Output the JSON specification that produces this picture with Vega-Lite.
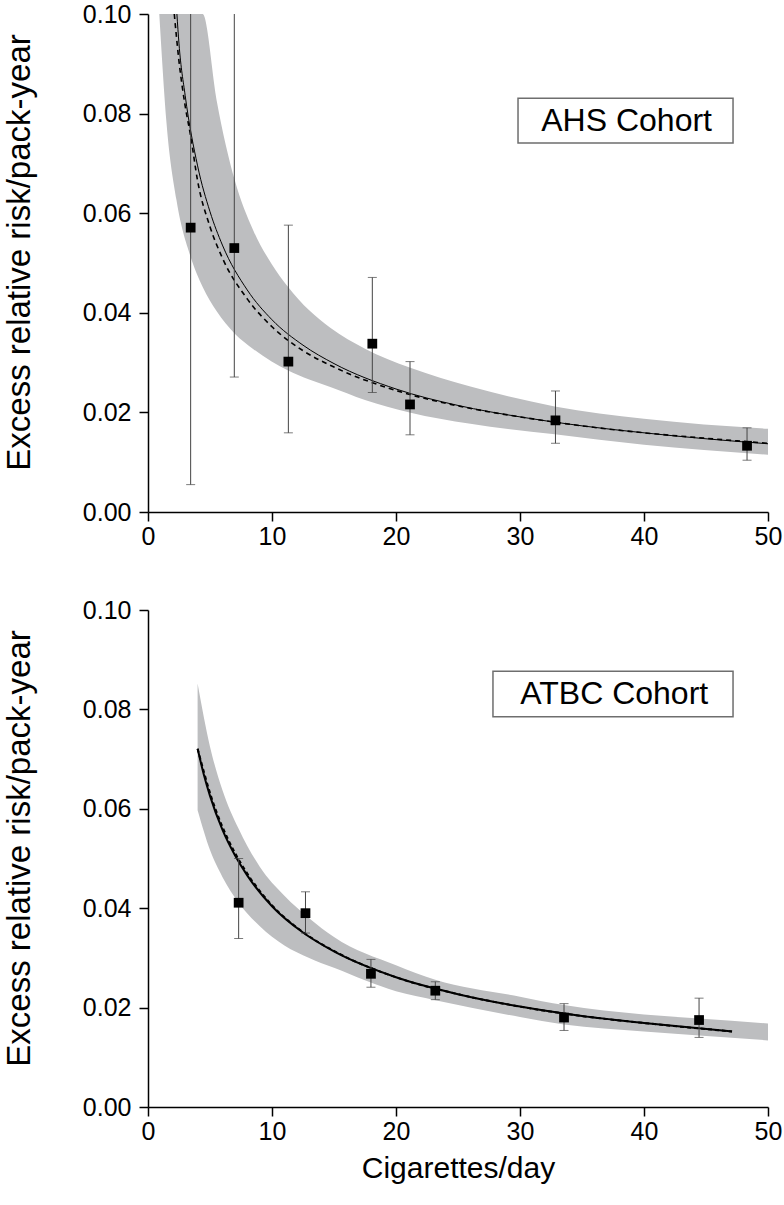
{
  "$schema": "https://vega.github.io/schema/vega-lite/v6.json",
  "background": "white",
  "padding": {"left": 3, "top": 2, "right": 5, "bottom": 5},
  "spacing": 49,
  "config": {
    "view": {"stroke": null},
    "font": "Liberation Sans",
    "axis": {
      "domainColor": "black", "domainWidth": 1.5,
      "tickColor": "black", "tickWidth": 1.5, "tickSize": 9,
      "labelFontSize": 25, "labelColor": "black", "labelFont": "Liberation Sans",
      "grid": false, "labelFlush": false, "labelOverlap": false,
      "titleFont": "Liberation Sans", "titleFontSize": 30, "titleFontWeight": "normal", "titleColor": "black"
    },
    "axisY": {"labelPadding": 8, "titlePadding": 46, "titleFontSize": 33},
    "axisX": {"labelPadding": 3, "titlePadding": 9}
  },
  "datasets": {
    "ahs_points": [
      {"cig": 3.44, "rr": 0.0571, "lo": 0.0055, "hi": 0.1},
      {"cig": 6.96, "rr": 0.0530, "lo": 0.0271, "hi": 0.1},
      {"cig": 11.32, "rr": 0.0302, "lo": 0.0159, "hi": 0.0576},
      {"cig": 18.09, "rr": 0.0338, "lo": 0.0240, "hi": 0.0471},
      {"cig": 21.13, "rr": 0.0216, "lo": 0.0155, "hi": 0.0302},
      {"cig": 32.86, "rr": 0.0184, "lo": 0.0138, "hi": 0.0243},
      {"cig": 48.31, "rr": 0.0133, "lo": 0.0104, "hi": 0.0169}
    ],
    "ahs_band": [
      {"cig": 0.91, "lo": 0.1, "hi": 0.1},
      {"cig": 1.5, "lo": 0.0779, "hi": 0.1},
      {"cig": 2.3, "lo": 0.0626, "hi": 0.1},
      {"cig": 3.44, "lo": 0.0512, "hi": 0.1},
      {"cig": 4.41, "lo": 0.0452, "hi": 0.1},
      {"cig": 5.54, "lo": 0.0403, "hi": 0.0826},
      {"cig": 7.0, "lo": 0.0358, "hi": 0.0666},
      {"cig": 8.5, "lo": 0.0327, "hi": 0.0565},
      {"cig": 9.97, "lo": 0.0302, "hi": 0.0498},
      {"cig": 11.3, "lo": 0.0284, "hi": 0.0452},
      {"cig": 13.0, "lo": 0.0266, "hi": 0.0405},
      {"cig": 14.7, "lo": 0.0251, "hi": 0.0370},
      {"cig": 17.5, "lo": 0.0225, "hi": 0.0328},
      {"cig": 21.1, "lo": 0.0200, "hi": 0.0290},
      {"cig": 26, "lo": 0.0177, "hi": 0.0252},
      {"cig": 32.8, "lo": 0.0156, "hi": 0.0212},
      {"cig": 40, "lo": 0.0135, "hi": 0.0187},
      {"cig": 50, "lo": 0.0115, "hi": 0.0167}
    ],
    "ahs_fit": [
      {"fit": "solid", "cig": 2.33, "rr": 0.1},
      {"fit": "solid", "cig": 2.5, "rr": 0.0940},
      {"fit": "solid", "cig": 3, "rr": 0.0836},
      {"fit": "solid", "cig": 4, "rr": 0.0695},
      {"fit": "solid", "cig": 5, "rr": 0.0603},
      {"fit": "solid", "cig": 6, "rr": 0.0536},
      {"fit": "solid", "cig": 8, "rr": 0.0446},
      {"fit": "solid", "cig": 10, "rr": 0.0386},
      {"fit": "solid", "cig": 12.5, "rr": 0.0335},
      {"fit": "solid", "cig": 15, "rr": 0.0298},
      {"fit": "solid", "cig": 20, "rr": 0.0247},
      {"fit": "solid", "cig": 25, "rr": 0.0214},
      {"fit": "solid", "cig": 30, "rr": 0.0191},
      {"fit": "solid", "cig": 35, "rr": 0.0173},
      {"fit": "solid", "cig": 40, "rr": 0.0159},
      {"fit": "solid", "cig": 45, "rr": 0.0147},
      {"fit": "solid", "cig": 50, "rr": 0.0137},
      {"fit": "dashed", "cig": 2.12, "rr": 0.1},
      {"fit": "dashed", "cig": 2.5, "rr": 0.0905},
      {"fit": "dashed", "cig": 3, "rr": 0.0815},
      {"fit": "dashed", "cig": 3.44, "rr": 0.0755},
      {"fit": "dashed", "cig": 4, "rr": 0.0665},
      {"fit": "dashed", "cig": 5, "rr": 0.0573},
      {"fit": "dashed", "cig": 6, "rr": 0.0510},
      {"fit": "dashed", "cig": 8, "rr": 0.0428},
      {"fit": "dashed", "cig": 10, "rr": 0.0372},
      {"fit": "dashed", "cig": 12.5, "rr": 0.0324},
      {"fit": "dashed", "cig": 15, "rr": 0.0291},
      {"fit": "dashed", "cig": 20, "rr": 0.0244},
      {"fit": "dashed", "cig": 25, "rr": 0.0213},
      {"fit": "dashed", "cig": 30, "rr": 0.0191},
      {"fit": "dashed", "cig": 35, "rr": 0.0173},
      {"fit": "dashed", "cig": 40, "rr": 0.0159},
      {"fit": "dashed", "cig": 45, "rr": 0.0148},
      {"fit": "dashed", "cig": 50, "rr": 0.0138}
    ],
    "atbc_points": [
      {"cig": 7.31, "rr": 0.0411, "lo": 0.0339, "hi": 0.0500},
      {"cig": 12.7, "rr": 0.0390, "lo": 0.0350, "hi": 0.0433},
      {"cig": 17.98, "rr": 0.0268, "lo": 0.0241, "hi": 0.0297},
      {"cig": 23.17, "rr": 0.0234, "lo": 0.0216, "hi": 0.0252},
      {"cig": 33.55, "rr": 0.0180, "lo": 0.0154, "hi": 0.0208},
      {"cig": 44.44, "rr": 0.0175, "lo": 0.0140, "hi": 0.0219}
    ],
    "atbc_band": [
      {"cig": 4.0, "lo": 0.0597, "hi": 0.0852},
      {"cig": 5.0, "lo": 0.0517, "hi": 0.0725},
      {"cig": 6.0, "lo": 0.0463, "hi": 0.0638},
      {"cig": 7.31, "lo": 0.0411, "hi": 0.0560},
      {"cig": 9.0, "lo": 0.0364, "hi": 0.0484},
      {"cig": 11.0, "lo": 0.0325, "hi": 0.0425},
      {"cig": 13.0, "lo": 0.0300, "hi": 0.0380},
      {"cig": 15.0, "lo": 0.0280, "hi": 0.0342},
      {"cig": 20.0, "lo": 0.0233, "hi": 0.0285},
      {"cig": 23.17, "lo": 0.0215, "hi": 0.0256},
      {"cig": 30.0, "lo": 0.0181, "hi": 0.0222},
      {"cig": 33.55, "lo": 0.0166, "hi": 0.0205},
      {"cig": 40.0, "lo": 0.0152, "hi": 0.0186},
      {"cig": 44.44, "lo": 0.0144, "hi": 0.0178},
      {"cig": 50.0, "lo": 0.0134, "hi": 0.0168}
    ],
    "atbc_fit": [
      {"fit": "solid", "cig": 4.0, "rr": 0.0721},
      {"fit": "solid", "cig": 4.5, "rr": 0.0669},
      {"fit": "solid", "cig": 5, "rr": 0.0626},
      {"fit": "solid", "cig": 6, "rr": 0.0558},
      {"fit": "solid", "cig": 7, "rr": 0.0507},
      {"fit": "solid", "cig": 8, "rr": 0.0466},
      {"fit": "solid", "cig": 10, "rr": 0.0404},
      {"fit": "solid", "cig": 12.5, "rr": 0.0351},
      {"fit": "solid", "cig": 15, "rr": 0.0313},
      {"fit": "solid", "cig": 20, "rr": 0.0261},
      {"fit": "solid", "cig": 25, "rr": 0.0227},
      {"fit": "solid", "cig": 30, "rr": 0.0202},
      {"fit": "solid", "cig": 35, "rr": 0.0183},
      {"fit": "solid", "cig": 40, "rr": 0.0169},
      {"fit": "solid", "cig": 47.1, "rr": 0.0152},
      {"fit": "dashed", "cig": 4.0, "rr": 0.0721},
      {"fit": "dashed", "cig": 4.5, "rr": 0.0675},
      {"fit": "dashed", "cig": 5, "rr": 0.0632},
      {"fit": "dashed", "cig": 6, "rr": 0.0564},
      {"fit": "dashed", "cig": 7, "rr": 0.0512},
      {"fit": "dashed", "cig": 8, "rr": 0.0470},
      {"fit": "dashed", "cig": 10, "rr": 0.0406},
      {"fit": "dashed", "cig": 12.5, "rr": 0.0352},
      {"fit": "dashed", "cig": 15, "rr": 0.0314},
      {"fit": "dashed", "cig": 20, "rr": 0.0261},
      {"fit": "dashed", "cig": 25, "rr": 0.0227},
      {"fit": "dashed", "cig": 30, "rr": 0.0202},
      {"fit": "dashed", "cig": 35, "rr": 0.0183},
      {"fit": "dashed", "cig": 40, "rr": 0.0169},
      {"fit": "dashed", "cig": 47.1, "rr": 0.0152}
    ]
  },
  "vconcat": [
    {
      "width": 620,
      "height": 498,
      "layer": [
        {
          "data": {"name": "ahs_band"},
          "mark": {"type": "area", "orient": "vertical", "color": "#bdbec0", "interpolate": "monotone"},
          "encoding": {
            "x": {"field": "cig", "type": "quantitative", "scale": {"domain": [0, 50], "nice": false}, "axis": {"values": [0, 10, 20, 30, 40, 50], "title": null}},
            "y": {"field": "lo", "type": "quantitative", "scale": {"domain": [0, 0.1], "nice": false}, "axis": {"values": [0, 0.02, 0.04, 0.06, 0.08, 0.1], "format": ".2f", "title": "Excess relative risk/pack-year", "titleY": 238}},
            "y2": {"field": "hi"}
          }
        },
        {
          "data": {"name": "ahs_fit"},
          "transform": [{"filter": "datum.fit === 'solid'"}],
          "mark": {"type": "line", "interpolate": "monotone", "color": "black", "strokeWidth": 1},
          "encoding": {
            "x": {"field": "cig", "type": "quantitative"},
            "y": {"field": "rr", "type": "quantitative"}
          }
        },
        {
          "data": {"name": "ahs_fit"},
          "transform": [{"filter": "datum.fit === 'dashed'"}],
          "mark": {"type": "line", "interpolate": "monotone", "color": "black", "strokeWidth": 1.6, "strokeDash": [5, 4]},
          "encoding": {
            "x": {"field": "cig", "type": "quantitative"},
            "y": {"field": "rr", "type": "quantitative"}
          }
        },
        {
          "data": {"name": "ahs_points"},
          "mark": {"type": "rule", "color": "#444444", "strokeWidth": 1},
          "encoding": {
            "x": {"field": "cig", "type": "quantitative"},
            "y": {"field": "lo", "type": "quantitative"},
            "y2": {"field": "hi"}
          }
        },
        {
          "data": {"name": "ahs_points"},
          "mark": {"type": "tick", "orient": "horizontal", "size": 9, "thickness": 1, "color": "#444444"},
          "encoding": {
            "x": {"field": "cig", "type": "quantitative"},
            "y": {"field": "lo", "type": "quantitative"}
          }
        },
        {
          "data": {"name": "ahs_points"},
          "transform": [{"filter": "datum.hi < 0.1"}],
          "mark": {"type": "tick", "orient": "horizontal", "size": 9, "thickness": 1, "color": "#444444"},
          "encoding": {
            "x": {"field": "cig", "type": "quantitative"},
            "y": {"field": "hi", "type": "quantitative"}
          }
        },
        {
          "data": {"name": "ahs_points"},
          "mark": {"type": "square", "size": 95, "color": "black", "opacity": 1},
          "encoding": {
            "x": {"field": "cig", "type": "quantitative"},
            "y": {"field": "rr", "type": "quantitative"}
          }
        },
        {
          "data": {"values": [{"label": "AHS Cohort"}]},
          "mark": {"type": "rect", "fill": "white", "stroke": "#6e6e6e", "strokeWidth": 1.5},
          "encoding": {
            "x": {"datum": 29.84}, "x2": {"datum": 47.18},
            "y": {"datum": 0.0831}, "y2": {"datum": 0.0741}
          }
        },
        {
          "data": {"values": [{"label": "AHS Cohort"}]},
          "mark": {"type": "text", "fontSize": 32, "font": "Liberation Sans", "color": "black", "align": "center", "baseline": "middle"},
          "encoding": {
            "x": {"datum": 38.6}, "y": {"datum": 0.0786},
            "text": {"field": "label"}
          }
        }
      ]
    },
    {
      "width": 620,
      "height": 497,
      "layer": [
        {
          "data": {"name": "atbc_band"},
          "mark": {"type": "area", "orient": "vertical", "color": "#bdbec0", "interpolate": "monotone"},
          "encoding": {
            "x": {"field": "cig", "type": "quantitative", "scale": {"domain": [0, 50], "nice": false}, "axis": {"values": [0, 10, 20, 30, 40, 50], "title": "Cigarettes/day"}},
            "y": {"field": "lo", "type": "quantitative", "scale": {"domain": [0, 0.1], "nice": false}, "axis": {"values": [0, 0.02, 0.04, 0.06, 0.08, 0.1], "format": ".2f", "title": "Excess relative risk/pack-year", "titleY": 238}},
            "y2": {"field": "hi"}
          }
        },
        {
          "data": {"name": "atbc_fit"},
          "transform": [{"filter": "datum.fit === 'solid'"}],
          "mark": {"type": "line", "interpolate": "monotone", "color": "black", "strokeWidth": 2},
          "encoding": {
            "x": {"field": "cig", "type": "quantitative"},
            "y": {"field": "rr", "type": "quantitative"}
          }
        },
        {
          "data": {"name": "atbc_fit"},
          "transform": [{"filter": "datum.fit === 'dashed'"}],
          "mark": {"type": "line", "interpolate": "monotone", "color": "black", "strokeWidth": 2, "strokeDash": [4, 3]},
          "encoding": {
            "x": {"field": "cig", "type": "quantitative"},
            "y": {"field": "rr", "type": "quantitative"}
          }
        },
        {
          "data": {"name": "atbc_points"},
          "mark": {"type": "rule", "color": "#444444", "strokeWidth": 1},
          "encoding": {
            "x": {"field": "cig", "type": "quantitative"},
            "y": {"field": "lo", "type": "quantitative"},
            "y2": {"field": "hi"}
          }
        },
        {
          "data": {"name": "atbc_points"},
          "mark": {"type": "tick", "orient": "horizontal", "size": 9, "thickness": 1, "color": "#444444"},
          "encoding": {
            "x": {"field": "cig", "type": "quantitative"},
            "y": {"field": "lo", "type": "quantitative"}
          }
        },
        {
          "data": {"name": "atbc_points"},
          "mark": {"type": "tick", "orient": "horizontal", "size": 9, "thickness": 1, "color": "#444444"},
          "encoding": {
            "x": {"field": "cig", "type": "quantitative"},
            "y": {"field": "hi", "type": "quantitative"}
          }
        },
        {
          "data": {"name": "atbc_points"},
          "mark": {"type": "square", "size": 95, "color": "black", "opacity": 1},
          "encoding": {
            "x": {"field": "cig", "type": "quantitative"},
            "y": {"field": "rr", "type": "quantitative"}
          }
        },
        {
          "data": {"values": [{"label": "ATBC Cohort"}]},
          "mark": {"type": "rect", "fill": "white", "stroke": "#6e6e6e", "strokeWidth": 1.5},
          "encoding": {
            "x": {"datum": 27.82}, "x2": {"datum": 47.18},
            "y": {"datum": 0.0877}, "y2": {"datum": 0.0785}
          }
        },
        {
          "data": {"values": [{"label": "ATBC Cohort"}]},
          "mark": {"type": "text", "fontSize": 32, "font": "Liberation Sans", "color": "black", "align": "center", "baseline": "middle"},
          "encoding": {
            "x": {"datum": 37.6}, "y": {"datum": 0.0831},
            "text": {"field": "label"}
          }
        }
      ]
    }
  ]
}
